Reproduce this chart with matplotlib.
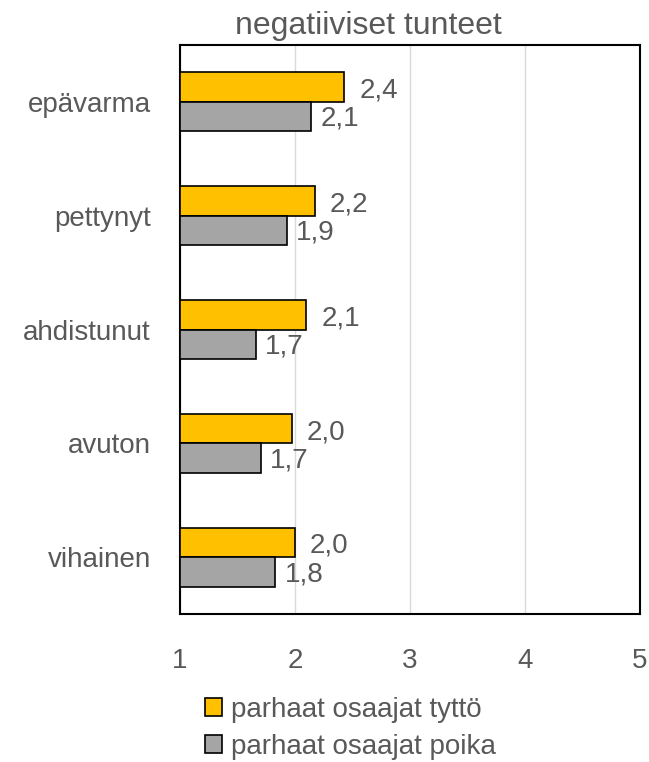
import matplotlib
matplotlib.use("Agg")
import matplotlib.pyplot as plt
import numpy as np

categories = ["epävarma", "pettynyt", "ahdistunut", "avuton", "vihainen"]
tytto = [2.43, 2.17, 2.10, 1.97, 2.00]
poika = [2.14, 1.93, 1.66, 1.70, 1.83]
series_names = ["parhaat osaajat tyttö", "parhaat osaajat poika"]
title = "negatiiviset tunteet"
xticks = [1, 2, 3, 4, 5]

plt.rcParams["font.family"] = ["Liberation Sans", "DejaVu Sans"]

txt = "#595959"
fs = 20
fig = plt.figure(figsize=(6.49, 7.62), dpi=100)
ax = fig.add_axes([0.2774, 0.194, 0.986 - 0.2774, 0.941 - 0.194])

y = np.arange(len(categories))
h = 0.26
b1 = ax.barh(y - h / 2, [v - 1 for v in tytto], left=1, height=h, color="#FFC000",
             edgecolor="black", linewidth=1.2, label=series_names[0], zorder=3)
b2 = ax.barh(y + h / 2, [v - 1 for v in poika], left=1, height=h, color="#A5A5A5",
             edgecolor="black", linewidth=1.2, label=series_names[1], zorder=3)

for yi, v in zip(y, tytto):
    ax.text(v + 0.13, yi - h / 2 + 0.03, f"{v:.1f}".replace(".", ","), va="center",
            ha="left", fontsize=fs, color=txt, zorder=4)
for yi, v in zip(y, poika):
    ax.text(v + 0.08, yi + h / 2 + 0.02, f"{v:.1f}".replace(".", ","), va="center",
            ha="left", fontsize=fs, color=txt, zorder=4)

ax.set_xlim(1, 5)
ax.set_ylim(len(categories) - 0.5, -0.5)
ax.set_xticks(xticks)
ax.set_xticklabels([str(t) for t in xticks], fontsize=fs, color=txt)
ax.set_yticks(y)
ax.set_yticklabels(categories, fontsize=fs, color=txt)
ax.tick_params(axis="both", length=0)
ax.tick_params(axis="x", pad=24)
ax.tick_params(axis="y", pad=21)
ax.grid(axis="x", color="#D9D9D9", linewidth=1, zorder=0)
for s in ax.spines.values():
    s.set_color("black")
    s.set_linewidth(1.5)

ax.set_title(title, fontsize=23, color=txt, pad=8, x=0.41)

leg = fig.legend(handles=[b1, b2], labels=series_names, loc="upper left",
                 bbox_to_anchor=(0.316, 0.085), frameon=False, fontsize=fs,
                 handlelength=0.62, handleheight=0.62, handletextpad=0.3,
                 labelspacing=0.37, borderaxespad=0, borderpad=0)
for t in leg.get_texts():
    t.set_color(txt)

fig.savefig("out.png", dpi=100)
